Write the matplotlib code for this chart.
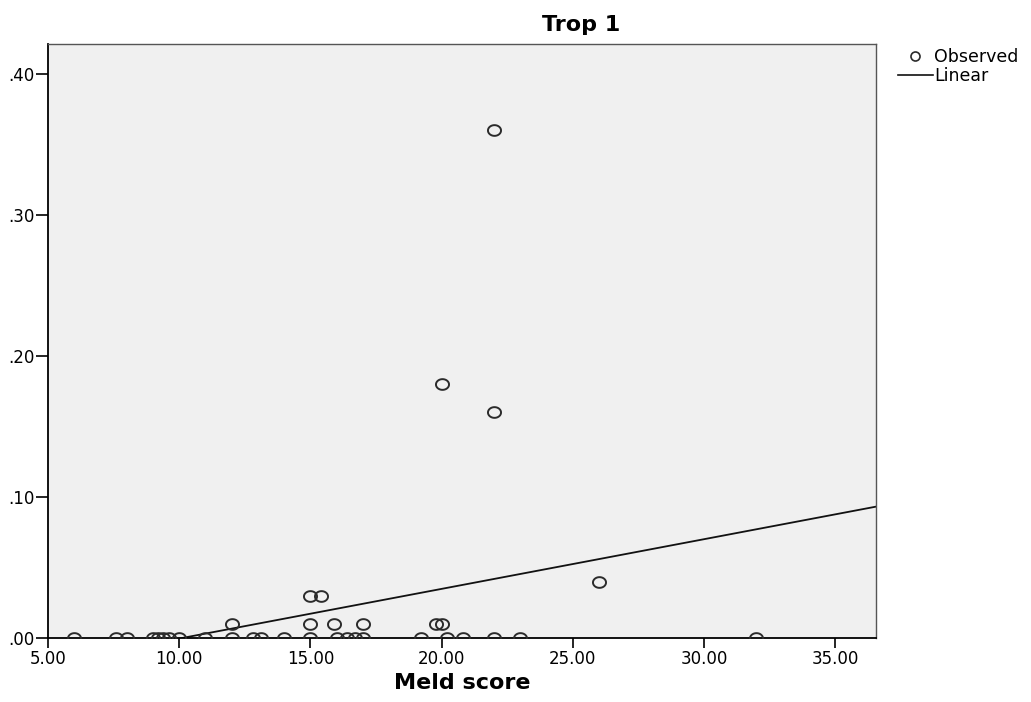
import numpy as np
import matplotlib.pyplot as plt
from matplotlib.lines import Line2D
from matplotlib.path import Path

plt.rcParams['font.family'] = ['DejaVu Sans']

# -------------------------------
# Datos (Meld score vs Trop 1)
# -------------------------------
meld_zero = [6.0, 7.6, 8.0, 9.0, 9.2, 9.4, 9.6, 10.0, 11.0, 12.0, 12.8, 13.1,
             14.0, 15.0, 16.0, 16.4, 16.7, 17.0, 19.2, 20.2, 20.8, 22.0, 23.0, 32.0]
meld_other = [12.0, 15.0, 15.9, 17.0, 19.8, 20.0, 15.0, 15.4, 26.0, 22.0, 20.0, 22.0]
trop_other = [0.01, 0.01, 0.01, 0.01, 0.01, 0.01, 0.03, 0.03, 0.04, 0.16, 0.18, 0.36]

meld = meld_zero + meld_other
trop = [0.0] * len(meld_zero) + trop_other

# recta de ajuste lineal
pendiente = 0.00352
intercepto = -0.0356

x_lim = (5.0, 36.56)
y_lim = (0.0, 0.4213)
x_ticks = [5, 10, 15, 20, 25, 30, 35]
y_ticks = [0.0, 0.1, 0.2, 0.3, 0.4]

# marcador elíptico (la imagen original está algo estirada en horizontal)
t = np.linspace(0, 2 * np.pi, 60)
elipse = Path(np.column_stack([1.22 * np.cos(t), np.sin(t)]), closed=True)

# -------------------------------
# Figura
# -------------------------------
fig = plt.figure(figsize=(10.31, 7.02), dpi=100)
ax = fig.add_axes([48 / 1031, 1 - 638 / 702, (876 - 48) / 1031, (638 - 43.5) / 702])
ax.set_facecolor('#f0f0f0')

ax.plot(meld, trop, ls='none', marker=elipse, mfc='none', mec='#2b2b2b',
        ms=9.4, mew=1.4, zorder=3)
xl = np.array(x_lim)
ax.plot(xl, intercepto + pendiente * xl, color='#111111', lw=1.3, zorder=2)

ax.set_xlim(*x_lim)
ax.set_ylim(*y_lim)
ax.set_xticks(x_ticks)
ax.set_xticklabels([f'{v:.2f}' for v in x_ticks])
ax.set_yticks(y_ticks)
ax.set_yticklabels([f'{v:.2f}'.lstrip('0') for v in y_ticks])
ax.tick_params(axis='x', direction='out', length=7, width=1.2, labelsize=12,
               color='black', pad=2)
ax.tick_params(axis='y', direction='out', length=9, width=1.2, labelsize=12,
               color='black', pad=0.5)

for s in ['left', 'bottom']:
    ax.spines[s].set_color('black')
    ax.spines[s].set_linewidth(1.3)
for s in ['top', 'right']:
    ax.spines[s].set_color('#555555')
    ax.spines[s].set_linewidth(1.0)

fig.text(581 / 1031, 1 - 25 / 702, 'Trop 1', ha='center', va='center',
         fontsize=16, fontweight='bold')
ax.set_xlabel('Meld score', fontsize=16, fontweight='bold', labelpad=3)

handles = [Line2D([], [], marker='o', ls='none', mfc='none', mec='#2b2b2b', ms=6.5, mew=1.2),
           Line2D([], [], color='#111111', lw=1.2)]
fig.legend(handles, ['Observed', 'Linear'], loc='upper left',
           bbox_to_anchor=(898 / 1031, 1 - 48.5 / 702), frameon=False, fontsize=12.5,
           handlelength=2.0, handletextpad=0.1, labelspacing=0.04, borderpad=0,
           borderaxespad=0)

fig.savefig('out.png', dpi=100)
